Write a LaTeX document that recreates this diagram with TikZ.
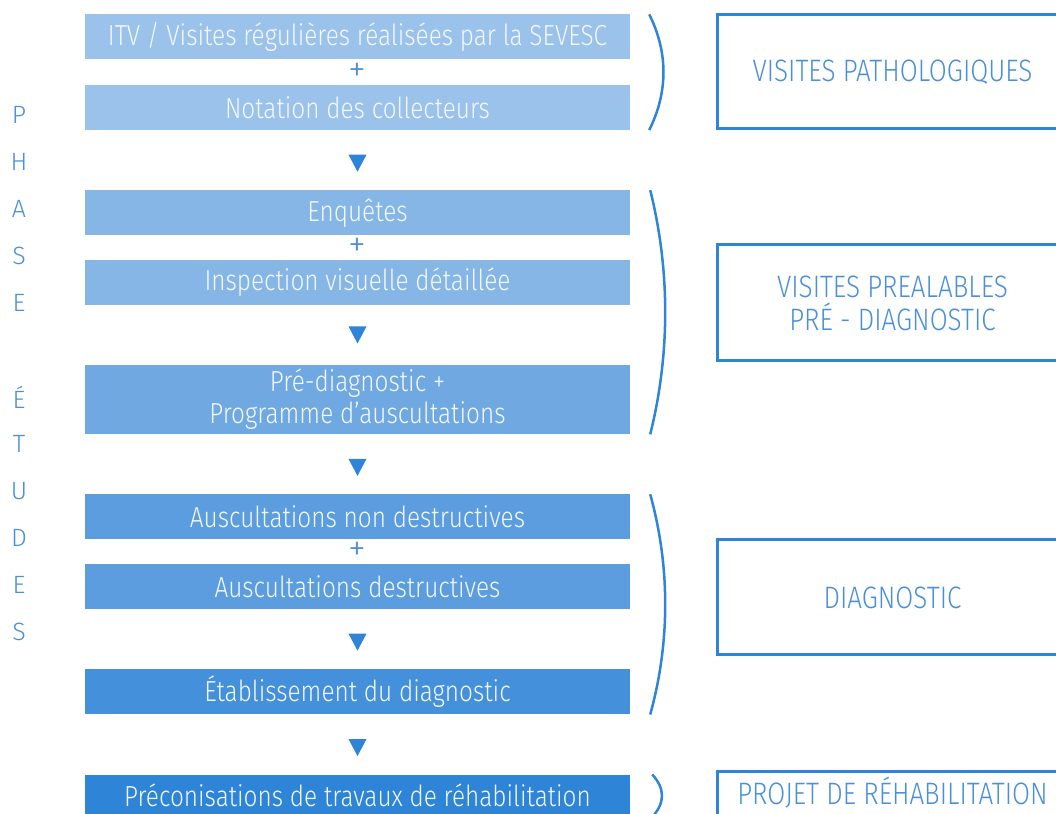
\documentclass[tikz,border=0pt]{standalone}
\usepackage{fontspec}
\setmainfont{Fira Sans}[UprightFont=* Light, FakeStretch=0.84]
\newfontfamily\lettrefont{Fira Sans}[UprightFont=* Light]
\usetikzlibrary{shapes.geometric, positioning, calc}

\definecolor{bleu}{HTML}{2E84D6}
\definecolor{bleutxt}{HTML}{4A8FDA}
\definecolor{etapeA}{HTML}{9AC2EA}
\definecolor{etapeB}{HTML}{85B6E6}
\definecolor{etapeC}{HTML}{70A8E2}
\definecolor{etapeD}{HTML}{5B9DDE}
\definecolor{etapeE}{HTML}{4590DA}
\definecolor{etapeF}{HTML}{2E84D6}

\begin{document}
\begin{tikzpicture}[
    x=1pt, y=1pt,
    node distance=25pt,
    every node/.style={font=\fontsize{29}{32}\selectfont},
    etape/.style={rectangle, inner sep=0pt, align=center, text=white!94!bleu,
                  minimum width=545pt, minimum height=45pt},
    phase/.style={rectangle, draw=bleu, line width=3pt, align=center, text=bleutxt,
                  minimum width=350pt, anchor=west, font=\fontsize{31}{33}\selectfont},
    plus/.style={text=bleutxt, inner sep=0pt, font=\lettrefont\fontsize{36}{36}\selectfont},
    fleche/.style={isosceles triangle, isosceles triangle stretches, shape border rotate=-90,
                   fill=bleu, inner sep=0pt, minimum width=18pt, minimum height=17pt},
    accolade/.style={draw=bleu, line width=2.5pt},
    lettre/.style={text=bleutxt, font=\lettrefont\fontsize{25}{25}\selectfont}
]
\path[use as bounding box] (0,0) rectangle (1056,813);
\clip (0,0) rectangle (1056,813);

% colonne des etapes
\node[etape, fill=etapeA] (itv) at (357.5,776) {ITV / Visites régulières réalisées par la SEVESC};
\node[etape, fill=etapeA, below=of itv] (notation) {Notation des collecteurs};
\node[etape, fill=etapeB, below=60pt of notation] (enquetes) {Enquêtes};
\node[etape, fill=etapeB, below=24pt of enquetes] (inspection) {Inspection visuelle détaillée};
\node[etape, fill=etapeC, below=60pt of inspection, minimum height=69pt] (prediag) {Pré-diagnostic +\\Programme d’auscultations};
\node[etape, fill=etapeD, below=60pt of prediag] (nondestr) {Auscultations non destructives};
\node[etape, fill=etapeD, below=24pt of nondestr] (destr) {Auscultations destructives};
\node[etape, fill=etapeE, below=60pt of destr] (diag) {Établissement du diagnostic};
\node[etape, fill=etapeF, below=60pt of diag, minimum height=42pt] (preco) {Préconisations de travaux de réhabilitation};

\node[plus] (p1) at ($(itv)!0.5!(notation)$) {+};
\node[plus] (p2) at ($(enquetes)!0.5!(inspection)$) {+};
\node[plus] (p3) at ($(nondestr)!0.5!(destr)$) {+};

\node[fleche] (f1) at ($(notation.south)!0.5!(enquetes.north)$) {};
\node[fleche] (f2) at ($(inspection.south)!0.5!(prediag.north)+(0,3)$) {};
\node[fleche] (f3) at ($(prediag.south)!0.5!(nondestr.north)$) {};
\node[fleche] (f4) at ($(destr.south)!0.5!(diag.north)$) {};
\node[fleche] (f5) at ($(diag.south)!0.5!(preco.north)$) {};

% accolades
\draw[accolade] ([xshift=19pt]itv.north east) .. controls +(19,-38) and +(19,38) .. ([xshift=19pt]notation.south east);
\draw[accolade] ([xshift=20pt]enquetes.north east) .. controls +(20,-80) and +(20,80) .. ([xshift=20pt]prediag.south east);
\draw[accolade] ([xshift=20pt]nondestr.north east) .. controls +(20,-72) and +(20,72) .. ([xshift=20pt]diag.south east);
\draw[accolade] ([xshift=22pt]preco.north east) .. controls +(13,-14) and +(13,14) .. ([xshift=22pt]preco.south east);

% phases
\node[phase, minimum height=114pt] (pathologiques) at (716,741) {VISITES PATHOLOGIQUES};
\node[phase, minimum height=116pt] (prealables) at (716,510) {VISITES PREALABLES\\PRÉ - DIAGNOSTIC};
\node[phase, minimum height=115pt] (diagnostic) at (716,215.5) {DIAGNOSTIC};
\node[phase, minimum height=44pt] (projet) at (716,20) {PROJET DE RÉHABILITATION};

% titre vertical
\foreach \l [count=\i from 0] in {P,H,A,S,E,{},É,T,U,D,E,S}
  \node[lettre] (l\i) at (19,{698-47*\i}) {\l};
\end{tikzpicture}
\end{document}
